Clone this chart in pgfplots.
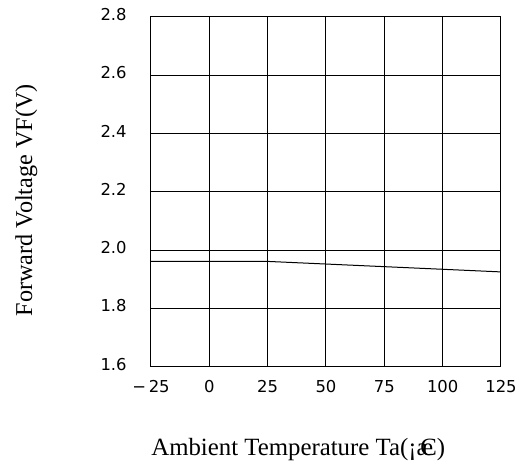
\documentclass[border=0pt]{standalone}
\usepackage{fontspec}
\setmainfont{Liberation Serif}
\newfontfamily\tickfont{DejaVu Sans}
\usepackage{pgfplots}
\pgfplotsset{compat=1.18}
\begin{document}
\begin{tikzpicture}
\useasboundingbox (0,0) rectangle (263pt,233.5pt);
\begin{axis}[
  at={(75.5pt,50.15pt)}, anchor=south west,
  scale only axis, width=175pt, height=175pt,
  xmin=-25, xmax=125, ymin=1.6, ymax=2.8,
  xtick={-25,0,25,50,75,100,125},
  xticklabels={−\,25,0,25,50,75,100,125},
  ytick={1.6,1.8,2.0,2.2,2.4,2.6,2.8},
  yticklabels={1.6,1.8,2.0,2.2,2.4,2.6,2.8},
  major tick length=0pt,
  grid=major,
  major grid style={black, line width=0.5pt},
  axis line style={black, line width=0.5pt},
  ticklabel style={font=\tickfont\fontsize{8.2}{9}\selectfont},
  xticklabel style={anchor=north, inner sep=0pt, yshift=-6.5pt},
  yticklabel style={anchor=east, inner sep=0pt, xshift=-12pt, yshift=1.2pt},
  xlabel={Ambient Temperature Ta(¡\rlap{æ}\kern0.15em C)},
  ylabel={Forward Voltage VF(V)},
  label style={inner sep=0pt},
  xlabel style={font=\fontsize{12.4}{14}\selectfont, at={(axis description cs:0,-0.2551)}, anchor=base west},
  ylabel style={font=\fontsize{12.1}{14}\selectfont, at={(axis description cs:-0.34,0.1429)}, anchor=base west},
]
\addplot[black, line width=0.5pt, mark=none] coordinates {
  (-25,1.961) (25,1.961) (50,1.952) (75,1.943) (100,1.934) (125,1.925)
};
\end{axis}
\end{tikzpicture}
\end{document}
